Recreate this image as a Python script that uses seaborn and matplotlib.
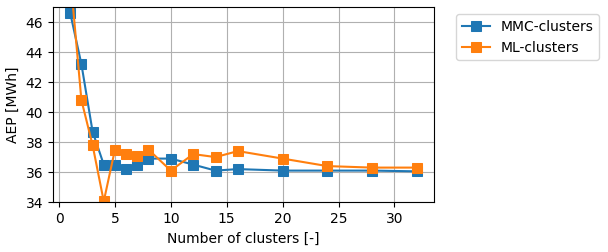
import numpy as np
import pandas as pd
import seaborn as sns
import matplotlib
matplotlib.use('Agg')
import matplotlib.pyplot as plt

# number of clusters
n_clusters = [1, 2, 3, 4, 5, 6, 7, 8, 10, 12, 14, 16, 20, 24, 28, 32]
# AEP values [MWh]
mmc_aep = [46.6, 43.2, 38.7, 36.5, 36.5, 36.2, 36.5, 36.9, 36.9, 36.5, 36.1, 36.2, 36.1, 36.1, 36.1, 36.05]
ml_aep = [49.1, 40.8, 37.8, 34.05, 37.5, 37.2, 37.1, 37.5, 36.1, 37.2, 37.0, 37.4, 36.9, 36.4, 36.3, 36.3]

df = pd.DataFrame({
    'n': n_clusters * 2,
    'aep': mmc_aep + ml_aep,
    'method': ['MMC-clusters'] * len(n_clusters) + ['ML-clusters'] * len(n_clusters),
})

fig, ax = plt.subplots(figsize=(6.08, 2.52), dpi=100)
sns.lineplot(data=df, x='n', y='aep', hue='method', marker='s', markersize=6.5,
             markeredgecolor=None, palette=['#1f77b4', '#ff7f0e'], ax=ax)
ax.set_ylim(34, 47)
ax.set_xlabel('Number of clusters [-]')
ax.set_ylabel('AEP [MWh]')
ax.grid(True)
ax.legend(loc='upper left', bbox_to_anchor=(1.04, 1.0))
fig.subplots_adjust(left=0.087, right=0.714, top=0.972, bottom=0.198)
fig.savefig('out.png', dpi=100)
